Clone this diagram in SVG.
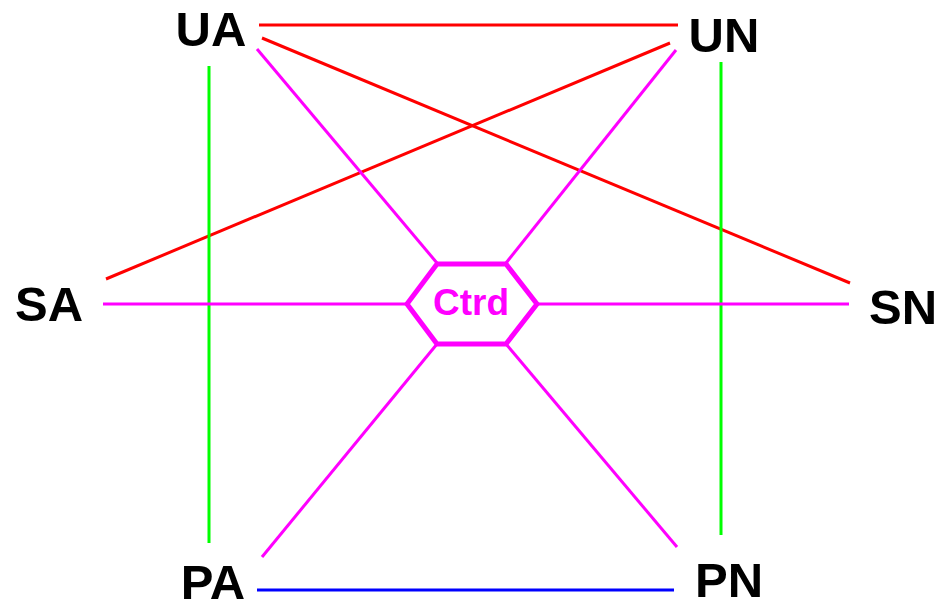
<svg xmlns="http://www.w3.org/2000/svg" width="937" height="603" viewBox="0 0 937 603">
<style>
.lbl{font-family:"Liberation Sans",Arial,sans-serif;font-weight:bold;font-size:49px;fill:#000;text-anchor:middle}
.ctr{font-family:"Liberation Sans",Arial,sans-serif;font-weight:bold;font-size:37px;fill:#ff00ff;text-anchor:middle}
.r{stroke:#ff0000;stroke-width:3;fill:none}
.m{stroke:#ff00ff;stroke-width:3;fill:none}
.g{stroke:#00ff00;stroke-width:3;fill:none}
.b{stroke:#0000ff;stroke-width:3;fill:none}
</style>
<rect width="937" height="603" fill="#fff"/>
<g id="connectors">
<line class="r" x1="259" y1="25" x2="678" y2="25"/>
<line class="r" x1="262" y1="38" x2="850" y2="283"/>
<line class="r" x1="670" y1="43" x2="106" y2="279"/>
<line class="g" x1="209" y1="66" x2="209" y2="543"/>
<line class="g" x1="721" y1="62" x2="721" y2="535"/>
<line class="b" x1="257" y1="590" x2="674" y2="590"/>
<line class="m" x1="257" y1="49" x2="437" y2="263"/>
<line class="m" x1="676" y1="50" x2="506" y2="263"/>
<line class="m" x1="103" y1="304" x2="407" y2="304"/>
<line class="m" x1="537" y1="304" x2="849" y2="304"/>
<line class="m" x1="262" y1="557" x2="437" y2="344"/>
<line class="m" x1="677" y1="547" x2="506" y2="344"/>
</g>
<g id="UA"><text class="lbl" x="211" y="46">UA</text></g>
<g id="UN"><text class="lbl" x="724" y="52">UN</text></g>
<g id="SA"><text class="lbl" x="49" y="321">SA</text></g>
<g id="SN"><text class="lbl" x="903" y="324">SN</text></g>
<g id="PA"><text class="lbl" x="213" y="599">PA</text></g>
<g id="PN"><text class="lbl" x="729" y="597">PN</text></g>
<g id="Ctrd">
<polygon points="407,304 437,264 506,264 537,304 506,344 437,344" fill="#fff" stroke="#ff00ff" stroke-width="5"/>
<text class="ctr" x="471" y="315">Ctrd</text>
</g>
</svg>
